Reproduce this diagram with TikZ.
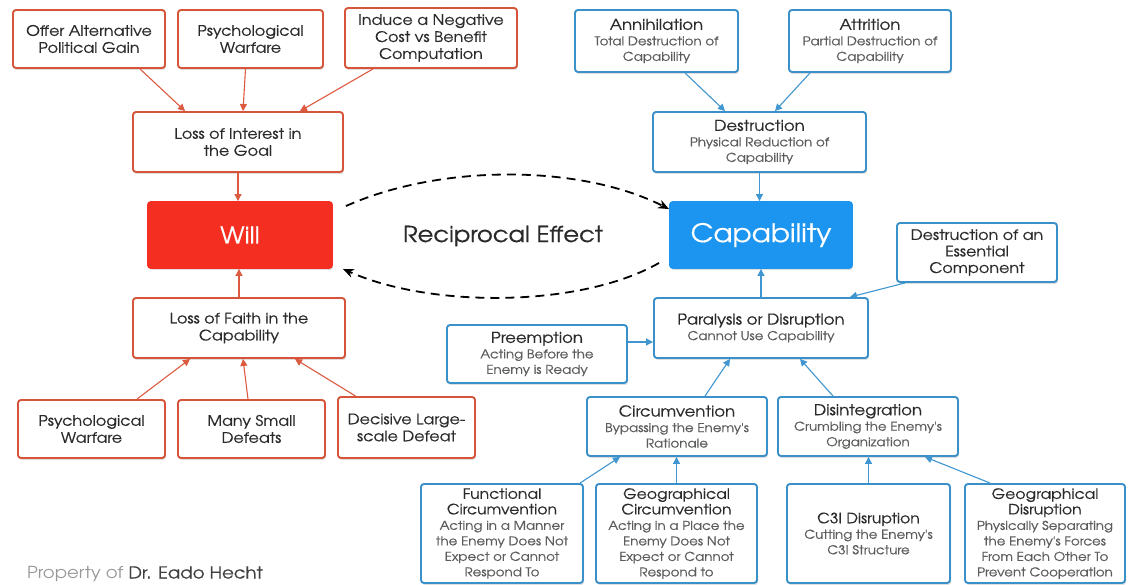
\documentclass[tikz,border=0pt]{standalone}
\usepackage{fontspec}
\setmainfont{texgyreadventor}[Extension=.otf, UprightFont=*-regular, BoldFont=*-bold, FakeStretch=1.1]
\newfontfamily\titlefont{texgyreadventor}[Extension=.otf, UprightFont=*-regular, BoldFont=*-bold, FakeStretch=1.1, FakeBold=0.5]
\usetikzlibrary{arrows.meta,shadows,calc}
\definecolor{redline}{HTML}{D6543A}
\definecolor{redarr}{HTML}{DC5A40}
\definecolor{willfill}{HTML}{F42E20}
\definecolor{blueline}{HTML}{3A90C8}
\definecolor{bluearr}{HTML}{4096D0}
\definecolor{capfill}{HTML}{1C95F0}
\definecolor{textdark}{HTML}{2A2A2A}
\definecolor{textlight}{HTML}{5C5C5C}
\newcommand\subf{\fontsize{12.2}{13}\selectfont\color{textlight}}
\newcommand\subg{\fontsize{12.2}{12.4}\selectfont\color{textlight}}
\tikzset{
  basebox/.style={line width=1.9pt, rounded corners=3pt, fill=white, align=center, inner sep=0pt,
    text=textdark, drop shadow={opacity=0.25, shadow xshift=1pt, shadow yshift=-2pt}},
  rbox/.style={basebox, draw=redline, font=\titlefont\fontsize{14.5}{17}\selectfont},
  bbox/.style={basebox, draw=blueline, font=\titlefont\fontsize{15}{15.5}\selectfont},
  bboxbig/.style={basebox, draw=blueline, font=\titlefont\fontsize{14.2}{15.5}\selectfont},
  redarrow/.style={draw=redarr, line width=1.1pt, -{Triangle[length=7pt,width=7pt]}},
  bluearrow/.style={draw=bluearr, line width=1.1pt, -{Triangle[length=7pt,width=7pt]}},
  recip/.style={draw=black, line width=1.8pt, dash pattern=on 9pt off 6pt, -{Stealth[length=11pt,width=9pt]}}
}
\begin{document}
\begin{tikzpicture}[x=1pt,y=-1pt]
\useasboundingbox[fill=white] (0,0) rectangle (1128,585);

% ---------- left (Will) side
\node[rbox, minimum width=152pt, minimum height=58pt] (offer) at (89,39) {Offer Alternative\\Political Gain};
\node[rbox, minimum width=145pt, minimum height=58pt] (psyA) at (250.5,39) {Psychological\\Warfare};
\node[rbox, minimum width=172pt, minimum height=60pt] (induce) at (431,38) {Induce a Negative\\Cost vs Benefit\\Computation};
\node[rbox, minimum width=210pt, minimum height=60pt] (interest) at (238,142) {Loss of Interest in\\the Goal};
\node[basebox, draw=willfill, fill=willfill, text=white, minimum width=184pt, minimum height=66pt,
      font=\titlefont\fontsize{23}{24}\selectfont] (will) at (240,235) {Will};
\node[rbox, minimum width=212pt, minimum height=60pt] (faith) at (239,328) {Loss of Faith in the\\Capability};
\node[rbox, minimum width=147pt, minimum height=58pt] (psyB) at (91.5,429) {Psychological\\Warfare};
\node[rbox, minimum width=147pt, minimum height=58pt] (many) at (251.5,429) {Many Small\\Defeats};
\node[rbox, minimum width=137pt, minimum height=61pt] (decisive) at (406.5,427.5) {Decisive Large-\\scale Defeat};

% ---------- right (Capability) side
\node[bbox, minimum width=163pt, minimum height=62pt] (annih) at (656.5,41) {Annihilation\\\subf Total Destruction of\\\subf Capability};
\node[bbox, minimum width=162pt, minimum height=62pt] (attr) at (870,41) {Attrition\\\subf Partial Destruction of\\\subf Capability};
\node[bbox, minimum width=213pt, minimum height=60pt] (destr) at (759.5,142) {Destruction\\\subf Physical Reduction of\\\subf Capability};
\node[basebox, draw=capfill, fill=capfill, text=white, minimum width=182pt, minimum height=66pt,
      font=\titlefont\fontsize{25.5}{27}\selectfont] (cap) at (761,235) {Capability};
\node[basebox, draw=blueline, font=\titlefont\fontsize{14.5}{16.5}\selectfont, minimum width=160pt, minimum height=59pt] (essential) at (977,252.5) {Destruction of an\\Essential\\Component};
\node[bbox, minimum width=214pt, minimum height=60pt] (paral) at (761,328) {Paralysis or Disruption\\\subf Cannot Use Capability};
\node[bbox, minimum width=180pt, minimum height=58pt] (preempt) at (537,354) {Preemption\\\subf Acting Before the\\\subf Enemy is Ready};
\node[bbox, minimum width=180pt, minimum height=59pt] (circ) at (677,426.5) {Circumvention\\\subf Bypassing the Enemy's\\\subf Rationale};
\node[bbox, minimum width=180pt, minimum height=59pt] (disint) at (868,426.5) {Disintegration\\\subf Crumbling the Enemy's\\\subf Organization};
\node[bboxbig, minimum width=162pt, minimum height=99pt] (func) at (502,533.5) {Functional\\Circumvention\\\subg Acting in a Manner\\\subg the Enemy Does Not\\\subg Expect or Cannot\\\subg Respond To};
\node[bboxbig, minimum width=161pt, minimum height=99pt] (geoc) at (676.5,533.5) {Geographical\\Circumvention\\\subg Acting in a Place the\\\subg Enemy Does Not\\\subg Expect or Cannot\\\subg Respond to};
\node[bboxbig, minimum width=163pt, minimum height=99pt] (c3i) at (868.5,533.5) {C3I Disruption\\\subg Cutting the Enemy's\\\subg C3I Structure};
\node[bboxbig, minimum width=160pt, minimum height=99pt] (geod) at (1045,533.5) {Geographical\\Disruption\\\subg Physically Separating\\\subg the Enemy's Forces\\\subg From Each Other To\\\subg Prevent Cooperation};

% ---------- labels
\node[font=\titlefont\fontsize{22}{24}\selectfont, text=textdark] (recipl) at (503,236) {Reciprocal Effect};
\node[anchor=west, font=\fontsize{16.5}{18}\selectfont, inner sep=0pt] (prop) at (27,574)
  {\color{black!40}Property of \color{black!75}\titlefont Dr. Eado Hecht};

% ---------- red connectors
\draw[redarrow] ([xshift=51pt]offer.south) -- ([xshift=-53pt]interest.north);
\draw[redarrow] ([xshift=-5pt]psyA.south) -- ([xshift=5pt]interest.north);
\draw[redarrow] ([xshift=-58pt]induce.south) -- ([xshift=62pt]interest.north);
\draw[redarrow] (interest.south) -- (interest.south |- will.north);
\draw[redarrow] (faith.north) -- (faith.north |- will.south);
\draw[redarrow] ([xshift=45.5pt]psyB.north) -- ([xshift=-49pt]faith.south);
\draw[redarrow] ([xshift=-3.5pt]many.north) -- ([xshift=4pt]faith.south);
\draw[redarrow] ([xshift=-51pt]decisive.north) -- ([xshift=56pt]faith.south);

% ---------- blue connectors
\draw[bluearrow] ([xshift=28.5pt]annih.south) -- ([xshift=-34.5pt]destr.north);
\draw[bluearrow] ([xshift=-60pt]attr.south) -- ([xshift=15.5pt]destr.north);
\draw[bluearrow] (destr.south) -- (destr.south |- cap.north);
\draw[bluearrow] (paral.north) -- (paral.north |- cap.south);
\draw[bluearrow] ([xshift=-72pt]essential.south) -- ([xshift=89pt]paral.north);
\draw[bluearrow] ([yshift=12pt]preempt.east) -- ([yshift=-14pt]paral.west);
\draw[bluearrow] ([xshift=28pt]circ.north) -- ([xshift=-31pt]paral.south);
\draw[bluearrow] ([xshift=-35pt]disint.north) -- ([xshift=39pt]paral.south);
\draw[bluearrow] ([xshift=78pt]func.north) -- ([xshift=-57pt]circ.south);
\draw[bluearrow] (geoc.north) -- (geoc.north |- circ.south);
\draw[bluearrow] (c3i.north) -- (c3i.north |- disint.south);
\draw[bluearrow] ([xshift=-55pt]geod.north) -- ([xshift=57pt]disint.south);

% ---------- reciprocal effect
\draw[recip] ([xshift=13pt,yshift=-5pt]will.north east) .. controls (440,164) and (580,164) .. ([yshift=-8pt]cap.north west);
\draw[recip] ([xshift=-10pt,yshift=6pt]cap.south west) .. controls (580,308) and (430,308) .. ([xshift=10pt]will.south east);
\end{tikzpicture}
\end{document}
